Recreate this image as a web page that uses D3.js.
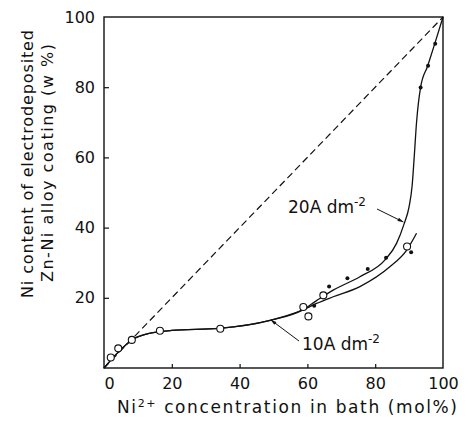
<!DOCTYPE html>
<meta charset="utf-8">
<style>
body { margin: 0; background: #fff; }
svg { font-family: "DejaVu Sans", Verdana, sans-serif; }
.tick text { font-size: 16px; fill: #111; font-family: "DejaVu Sans", sans-serif; }
.axis-title { font-size: 17px; fill: #111; }
.ytitle { font-size: 16px; fill: #111; }
.lbl { font-size: 17px; fill: #111; }
</style>
<svg width="468" height="426"></svg>
<script src="https://cdn.jsdelivr.net/npm/d3@7"></script>
<script>

// x ticks and y ticks
const xTicks = [0, 20, 40, 60, 80, 100];
const yTicks = [20, 40, 60, 80, 100];

// 10 A dm-2 data (open circles)
const open10 = [[2.0, 3.0], [4.2, 5.6], [8.2, 8.0], [16.5, 10.6], [34.3, 11.2],
                [58.8, 17.4], [60.3, 14.7], [64.7, 20.7], [89.4, 34.6]];
// 20 A dm-2 data (filled dots)
const dots20 = [[62.0, 17.7], [66.4, 23.2], [71.8, 25.6], [77.8, 28.2], [83.2, 31.4],
                [90.6, 33.0], [93.4, 79.9], [95.6, 86.1], [97.7, 92.4]];

// fitted curves
const curve10 = [[0, 0], [4, 4.3], [8.5, 8.2], [13, 9.8], [20, 10.7], [34, 11.3],
                 [49, 13.6], [58.5, 16.5], [62.7, 18.4], [67.6, 20.3], [75.5, 23.2],
                 [84.4, 28.9], [89.3, 33.6], [92.2, 38.4]];
const curve20 = [[0, 0], [4, 4.3], [8.5, 8.2], [13, 9.8], [20, 10.7], [34, 11.3],
                 [49, 13.6], [58.5, 16.5], [62.7, 19.2], [67.6, 22.2], [75.5, 26.0],
                 [82.9, 30.8], [86.3, 35.5], [88.5, 41], [90, 46], [90.9, 52],
                 [91.5, 60], [92.2, 70], [93.4, 80], [95.5, 86.1], [97.6, 92.5], [100, 100]];
const ideal = [[0, 0], [100, 100]];

const margin = {left: 104, top: 17, right: 25, bottom: 58};
const svg = d3.select("svg");
const width = 468 - margin.left - margin.right;
const height = 426 - margin.top - margin.bottom;

const x = d3.scaleLinear().domain([0, 100]).range([margin.left, margin.left + width]);
const y = d3.scaleLinear().domain([0, 100]).range([margin.top + height, margin.top]);

const g = svg.append("g");

// frame
g.append("rect")
  .attr("x", x(0)).attr("y", y(100))
  .attr("width", x(100) - x(0)).attr("height", y(0) - y(100))
  .attr("fill", "none").attr("stroke", "#111").attr("stroke-width", 1.4);

// axes
const xAxis = g.append("g")
  .attr("transform", "translate(0," + y(0) + ")")
  .call(d3.axisBottom(x).tickValues(xTicks).tickSizeInner(-4).tickSizeOuter(0).tickPadding(10));
xAxis.select(".domain").remove();
xAxis.selectAll(".tick line").filter(d => d === 0 || d === 100).remove();
xAxis.selectAll(".tick text").filter(d => d === 0).attr("dx", 5);

const yAxis = g.append("g")
  .attr("transform", "translate(" + x(0) + ",0)")
  .call(d3.axisLeft(y).tickValues(yTicks).tickSizeInner(-5).tickSizeOuter(0).tickPadding(9));
yAxis.select(".domain").remove();
yAxis.selectAll(".tick line").filter(d => d === 100).remove();
g.selectAll(".tick line").attr("stroke", "#111").attr("stroke-width", 1.2);

// axis titles
g.append("text").attr("class", "axis-title")
  .attr("x", 117).attr("y", 413)
  .attr("textLength", 340).attr("lengthAdjust", "spacing")
  .html("Ni<tspan dy='-6' font-size='11'>2+</tspan><tspan dy='6'> concentration in bath (mol%)</tspan>");

g.append("text").attr("class", "ytitle")
  .attr("transform", "translate(33,164) rotate(-90)")
  .attr("text-anchor", "middle")
  .attr("textLength", 268).attr("lengthAdjust", "spacing")
  .text("Ni content of electrodeposited");
g.append("text").attr("class", "ytitle")
  .attr("transform", "translate(53,163) rotate(-90)")
  .attr("text-anchor", "middle")
  .attr("textLength", 238).attr("lengthAdjust", "spacing")
  .text("Zn-Ni alloy coating (w %)");

// lines
const line = d3.line().x(d => x(d[0])).y(d => y(d[1]));
const smooth = d3.line().x(d => x(d[0])).y(d => y(d[1])).curve(d3.curveMonotoneX);

g.append("path").datum(ideal).attr("d", line)
  .attr("fill", "none").attr("stroke", "#111").attr("stroke-width", 1.2)
  .attr("stroke-dasharray", "7,4");

g.append("path").datum(curve10).attr("d", smooth)
  .attr("fill", "none").attr("stroke", "#111").attr("stroke-width", 1.3);
g.append("path").datum(curve20).attr("d", smooth)
  .attr("fill", "none").attr("stroke", "#111").attr("stroke-width", 1.3);

// points
g.selectAll(".open").data(open10).enter().append("circle")
  .attr("cx", d => x(d[0])).attr("cy", d => y(d[1])).attr("r", 3.5)
  .attr("fill", "#fff").attr("stroke", "#111").attr("stroke-width", 1.1);
g.selectAll(".dot").data(dots20).enter().append("circle")
  .attr("cx", d => x(d[0])).attr("cy", d => y(d[1])).attr("r", 2)
  .attr("fill", "#111");

// labels with leader arrows
function arrow(x1, y1, x2, y2) {
  g.append("line").attr("x1", x1).attr("y1", y1).attr("x2", x2).attr("y2", y2)
    .attr("stroke", "#111").attr("stroke-width", 1);
  const a = Math.atan2(y2 - y1, x2 - x1), s = 6;
  const p = [[x2, y2],
             [x2 - s * Math.cos(a - 0.3), y2 - s * Math.sin(a - 0.3)],
             [x2 - s * Math.cos(a + 0.3), y2 - s * Math.sin(a + 0.3)]];
  g.append("path").attr("d", "M" + p.join("L") + "Z").attr("fill", "#111");
}

g.append("text").attr("class", "lbl").attr("x", 288).attr("y", 213)
  .html("20A dm<tspan dy='-7' font-size='12'>-2</tspan>");
arrow(377, 209, x(88.3), y(41.6));

g.append("text").attr("class", "lbl").attr("x", 302).attr("y", 350)
  .html("10A dm<tspan dy='-7' font-size='12'>-2</tspan>");
arrow(299, 341, x(49.2), y(13.7));

</script>
